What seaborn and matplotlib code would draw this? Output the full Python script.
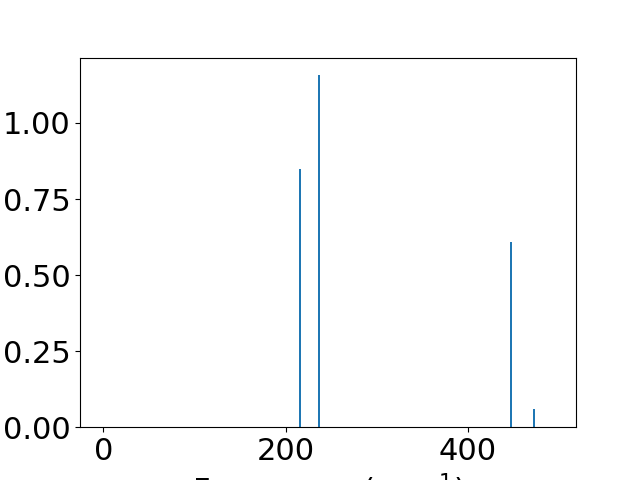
import matplotlib
matplotlib.use("Agg")
import matplotlib.pyplot as plt
import seaborn as sns
import pandas as pd

# Stick spectrum (zero-intensity ends span the grid)
freqs = [0, 216, 237, 447, 473, 493]
intensities = [0.0, 0.85, 1.157, 0.609, 0.059, 0.0]

def main():
    plt.rcParams["font.size"] = 22
    df = pd.DataFrame({"freq": freqs, "intensity": intensities})

    fig, ax = plt.subplots(figsize=(6.4, 4.8), dpi=100)
    sns.barplot(data=df, x="freq", y="intensity", native_scale=True,
                color="#1f77b4", saturation=1, width=0.1, ax=ax)
    ax.set_xlabel("Frequency (cm$^{-1}$)")
    ax.set_ylabel("")

    plt.savefig("out.png")

if __name__ == "__main__":
    main()
